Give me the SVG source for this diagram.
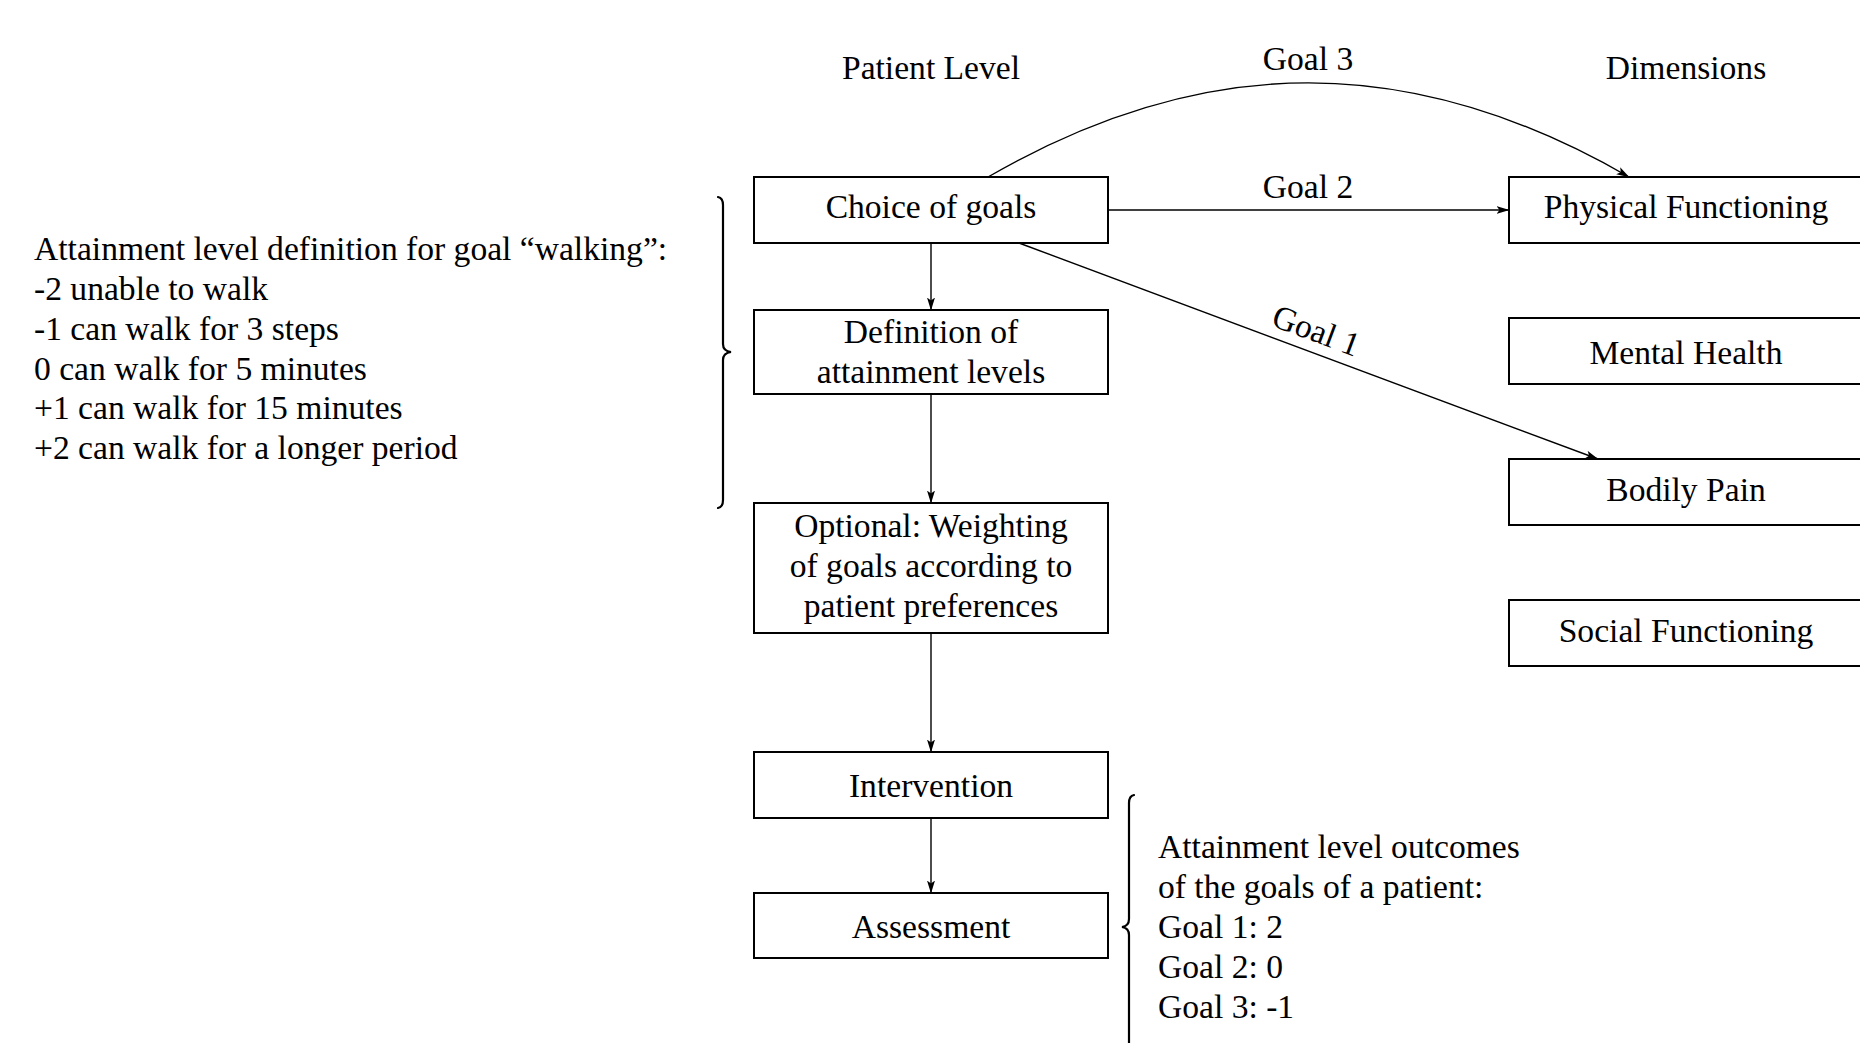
<svg xmlns="http://www.w3.org/2000/svg" width="1860" height="1043" viewBox="0 0 1860 1043">
<defs>
<style>
text{font-family:"Liberation Serif","Times New Roman",serif;font-size:33.6px;fill:#000}
.c{text-anchor:middle}
.box{fill:#fff;stroke:#000;stroke-width:2}
.ln{fill:none;stroke:#000;stroke-width:1.4}
.br{fill:none;stroke:#000;stroke-width:2.2;stroke-linecap:round}
</style>
<marker id="ah" markerUnits="userSpaceOnUse" markerWidth="13" markerHeight="9" viewBox="0 0 13 9" refX="12.5" refY="4.5" orient="auto">
<path d="M0,0.5 L13,4.5 L0,8.5 L3,4.5 z" fill="#000"/>
</marker>
</defs>
<g id="headers">
<text class="c" x="931" y="79">Patient Level</text>
<text class="c" x="1686" y="79">Dimensions</text>
</g>
<g id="connectors">
<path class="ln" d="M988,177 C1205,51.5 1412,51.5 1629,177" marker-end="url(#ah)"/>
<line class="ln" x1="1108" y1="210" x2="1509" y2="210" marker-end="url(#ah)"/>
<line class="ln" x1="1019" y1="243" x2="1598" y2="459" marker-end="url(#ah)"/>
<line class="ln" x1="931" y1="243" x2="931" y2="310" marker-end="url(#ah)"/>
<line class="ln" x1="931" y1="394" x2="931" y2="503" marker-end="url(#ah)"/>
<line class="ln" x1="931" y1="633" x2="931" y2="752" marker-end="url(#ah)"/>
<line class="ln" x1="931" y1="818" x2="931" y2="893" marker-end="url(#ah)"/>
<text class="c" x="1308" y="70">Goal 3</text>
<text class="c" x="1308" y="198">Goal 2</text>
<text class="c" transform="translate(1312.4,341) rotate(20.5)" x="0" y="0">Goal 1</text>
</g>
<g id="choice">
<rect class="box" x="754" y="177" width="354" height="66"/>
<text class="c" x="931" y="218">Choice of goals</text>
</g>
<g id="definition">
<rect class="box" x="754" y="310" width="354" height="84"/>
<text class="c" x="931" y="343">Definition of</text>
<text class="c" x="931" y="383">attainment levels</text>
</g>
<g id="weighting">
<rect class="box" x="754" y="503" width="354" height="130"/>
<text class="c" x="931" y="537">Optional: Weighting</text>
<text class="c" x="931" y="577">of goals according to</text>
<text class="c" x="931" y="617">patient preferences</text>
</g>
<g id="intervention">
<rect class="box" x="754" y="752" width="354" height="66"/>
<text class="c" x="931" y="797">Intervention</text>
</g>
<g id="assessment">
<rect class="box" x="754" y="893" width="354" height="65"/>
<text class="c" x="931" y="938">Assessment</text>
</g>
<g id="physical">
<rect class="box" x="1509" y="177" width="360" height="66"/>
<text class="c" x="1686" y="218">Physical Functioning</text>
</g>
<g id="mental">
<rect class="box" x="1509" y="318" width="360" height="66"/>
<text class="c" x="1686" y="364">Mental Health</text>
</g>
<g id="bodily">
<rect class="box" x="1509" y="459" width="360" height="66"/>
<text class="c" x="1686" y="501">Bodily Pain</text>
</g>
<g id="social">
<rect class="box" x="1509" y="600" width="360" height="66"/>
<text class="c" x="1686" y="642">Social Functioning</text>
</g>
<g id="definition-note">
<path class="br" d="M718,197 Q723,198 723,205 L723,344 Q723,351 731,352 Q723,353 723,360 L723,500 Q723,507 718,508"/>
<text x="34" y="260">Attainment level definition for goal “walking”:</text>
<text x="34" y="300">-2 unable to walk</text>
<text x="34" y="340">-1 can walk for 3 steps</text>
<text x="34" y="380">0 can walk for 5 minutes</text>
<text x="34" y="419">+1 can walk for 15 minutes</text>
<text x="34" y="459">+2 can walk for a longer period</text>
</g>
<g id="outcome-note">
<path class="br" d="M1134,795 Q1129,796 1129,803 L1129,919 Q1129,926 1122,927 Q1129,928 1129,935 L1129,1052 Q1129,1059 1134,1060"/>
<text x="1158" y="858">Attainment level outcomes</text>
<text x="1158" y="898">of the goals of a patient:</text>
<text x="1158" y="938">Goal 1: 2</text>
<text x="1158" y="978">Goal 2: 0</text>
<text x="1158" y="1018">Goal 3: -1</text>
</g>
</svg>
